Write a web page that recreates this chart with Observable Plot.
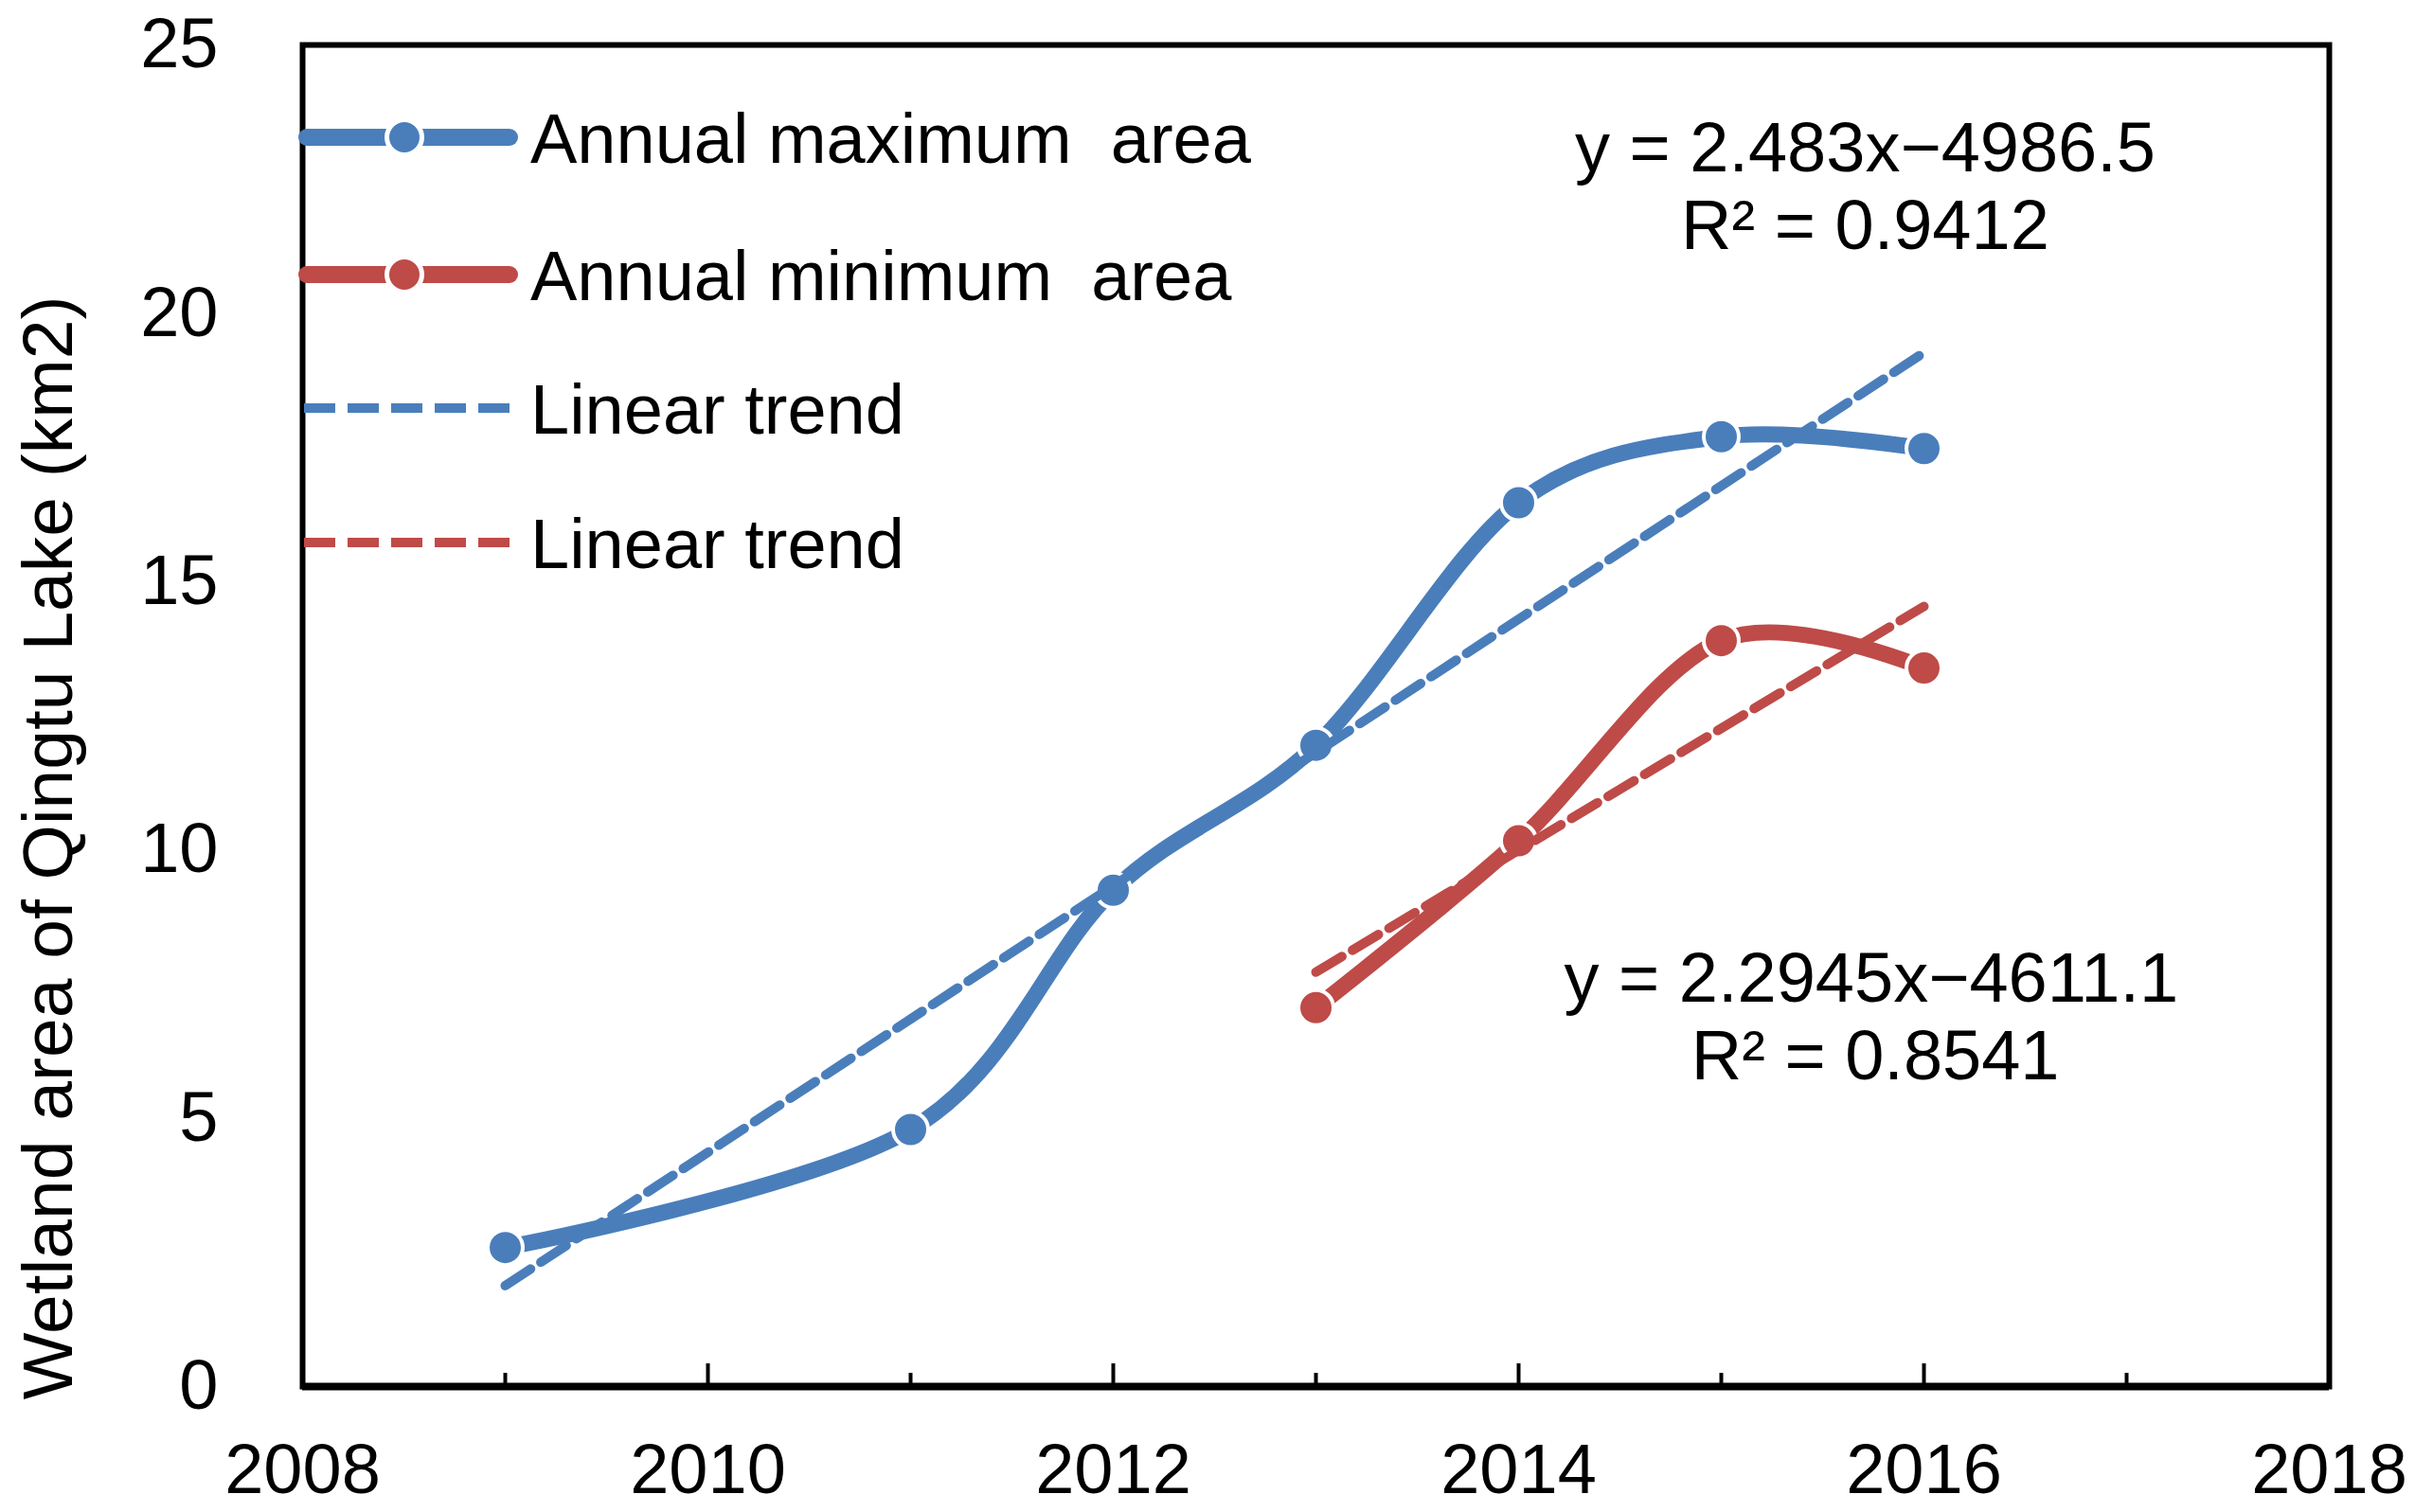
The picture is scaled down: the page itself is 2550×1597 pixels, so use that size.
<!DOCTYPE html>
<html>
<head>
<meta charset="utf-8">
<script src="https://cdn.jsdelivr.net/npm/d3@7"></script>
<script src="https://cdn.jsdelivr.net/npm/@observablehq/plot@0.6"></script>
<style>
  html, body { margin: 0; padding: 0; background: #fff; }
  #wrap { position: relative; width: 2550px; height: 1597px; font-family: "Liberation Sans", Arial, sans-serif; }
  #legend { position: absolute; left: 0; top: 0; overflow: visible; }
</style>
</head>
<body>
<div id="wrap"></div>
<script>
// ---- data ----
const maxYears = [2009, 2011, 2012, 2013, 2014, 2015, 2016];
const maxArea  = [2.59, 4.79, 9.25, 11.95, 16.47, 17.70, 17.48];
const minYears = [2013, 2014, 2015, 2016];
const minArea  = [7.06, 10.17, 13.90, 13.39];
const xTicksMajor = [2008, 2010, 2012, 2014, 2016, 2018];
const xTicksMinor = [2009, 2011, 2013, 2015, 2017];
const yTicks = [0, 5, 10, 15, 20, 25];
const legendLabels = ["Annual maximum  area", "Annual minimum  area", "Linear trend", "Linear trend"];
const eqMax = ["y = 2.483x\u22124986.5", "R\u00b2 = 0.9412"];
const eqMin = ["y = 2.2945x\u22124611.1", "R\u00b2 = 0.8541"];
const yTitle = "Wetland area of Qingtu Lake (km2)";

const blue = "#4a7ebb";
const red = "#be4b48";

const maxData = maxYears.map((x, i) => ({x, y: maxArea[i]}));
const minData = minYears.map((x, i) => ({x, y: minArea[i]}));

const W = 2550, H = 1597;
const mT = 47, mB = 133, mL = 319, mR = 91;
const frameH = H - mT - mB;
const fs = 74;

const chart = Plot.plot({
  width: W, height: H,
  marginTop: mT, marginBottom: mB, marginLeft: mL, marginRight: mR,
  style: {fontFamily: '"Liberation Sans", Arial, sans-serif', fontSize: fs + "px", color: "#000", background: "#fff"},
  x: {domain: [2008, 2018]},
  y: {domain: [0, 25]},
  marks: [
    Plot.axisY({ticks: yTicks, tickSize: 0, tickPadding: 89, tickFormat: d => String(d), label: null, fontSize: fs}),
    Plot.axisX({ticks: xTicksMajor, tickSize: 0, tickPadding: 60, tickFormat: d => String(d), label: null, fontSize: fs}),
    Plot.tickX(xTicksMajor, {x: d => d, stroke: "#000", strokeWidth: 4, insetTop: frameH - 24}),
    Plot.tickX(xTicksMinor, {x: d => d, stroke: "#000", strokeWidth: 4, insetTop: frameH - 14}),
    Plot.frame({stroke: "#000", strokeWidth: 6}),
    Plot.ruleY([0], {stroke: "#000", strokeWidth: 8}),
    Plot.line(maxData, {x: "x", y: "y", curve: "cardinal", stroke: blue, strokeWidth: 17}),
    Plot.line(minData, {x: "x", y: "y", curve: "cardinal", stroke: red, strokeWidth: 17}),
    Plot.dot(maxData, {x: "x", y: "y", r: 18.5, fill: blue, stroke: "#fff", strokeWidth: 4}),
    Plot.dot(minData, {x: "x", y: "y", r: 18.5, fill: red, stroke: "#fff", strokeWidth: 4}),
    Plot.linearRegressionY(maxData, {x: "x", y: "y", ci: 0, stroke: blue, strokeWidth: 10, strokeDasharray: "32,13"}),
    Plot.linearRegressionY(minData, {x: "x", y: "y", ci: 0, stroke: red, strokeWidth: 10, strokeDasharray: "32,13"}),
    Plot.text([eqMax[0]], {x: 2015.71, y: 22.65, text: d => d, lineAnchor: "bottom", fontSize: fs, fill: "#000"}),
    Plot.text([eqMax[1]], {x: 2015.71, y: 21.19, text: d => d, lineAnchor: "bottom", fontSize: fs, fill: "#000"}),
    Plot.text([eqMin[0]], {x: 2015.74, y: 7.18, text: d => d, lineAnchor: "bottom", fontSize: fs, fill: "#000"}),
    Plot.text([eqMin[1]], {x: 2015.76, y: 5.72, text: d => d, lineAnchor: "bottom", fontSize: fs, fill: "#000"}),
    Plot.text([yTitle], {x: 2008, y: 10.04, text: d => d, rotate: -90, dx: -268, fontSize: 75, fill: "#000"})
  ]
});

const wrap = document.getElementById("wrap");
wrap.appendChild(chart);

// ---- legend overlay ----
const rowsY = [145, 290, 431, 573];
const styles = [
  {color: blue, dash: null, marker: true},
  {color: red, dash: null, marker: true},
  {color: blue, dash: "33,13", marker: false},
  {color: red, dash: "33,13", marker: false}
];
const leg = d3.create("svg")
  .attr("id", "legend")
  .attr("width", 1500).attr("height", 650)
  .style("font-family", '"Liberation Sans", Arial, sans-serif');
legendLabels.forEach((lab, i) => {
  const s = styles[i], yy = rowsY[i];
  const g = leg.append("g");
  if (s.marker) {
    g.append("line").attr("x1", 324).attr("x2", 538).attr("y1", yy).attr("y2", yy)
      .attr("stroke", s.color).attr("stroke-width", 18).attr("stroke-linecap", "round");
    g.append("circle").attr("cx", 427).attr("cy", yy).attr("r", 18.5)
      .attr("fill", s.color).attr("stroke", "#fff").attr("stroke-width", 5);
  } else {
    g.append("line").attr("x1", 321).attr("x2", 540).attr("y1", yy).attr("y2", yy)
      .attr("stroke", s.color).attr("stroke-width", 10).attr("stroke-dasharray", s.dash);
  }
  g.append("text").attr("x", 560).attr("y", yy + 27).attr("font-size", fs).attr("fill", "#000")
    .style("white-space", "pre").attr("xml:space", "preserve").text(lab);
});
wrap.appendChild(leg.node());
</script>
</body>
</html>
